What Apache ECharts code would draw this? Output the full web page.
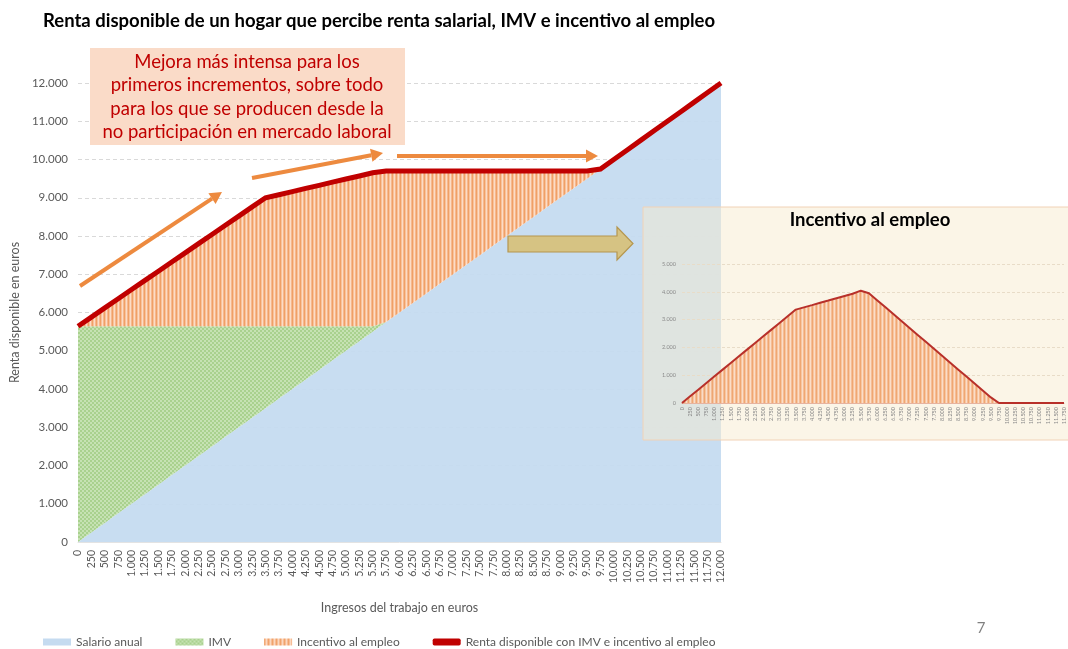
<!DOCTYPE html>
<html>
<head>
<meta charset="utf-8">
<script src="https://cdn.jsdelivr.net/npm/echarts@6/dist/echarts.min.js"></script>
<style>html,body{margin:0;padding:0;background:#fff}#c{width:1068px;height:649px}</style>
</head>
<body>
<div id="c"></div>
<script>
// ---------- DATA ----------
const categories = ['0','250','500','750','1.000','1.250','1.500','1.750','2.000','2.250','2.500','2.750','3.000','3.250','3.500','3.750','4.000','4.250','4.500','4.750','5.000','5.250','5.500','5.750','6.000','6.250','6.500','6.750','7.000','7.250','7.500','7.750','8.000','8.250','8.500','8.750','9.000','9.250','9.500','9.750','10.000','10.250','10.500','10.750','11.000','11.250','11.500','11.750','12.000'];
const salario = [0,250,500,750,1000,1250,1500,1750,2000,2250,2500,2750,3000,3250,3500,3750,4000,4250,4500,4750,5000,5250,5500,5750,6000,6250,6500,6750,7000,7250,7500,7750,8000,8250,8500,8750,9000,9250,9500,9750,10000,10250,10500,10750,11000,11250,11500,11750,12000];
const imv = [5640,5390,5140,4890,4640,4390,4140,3890,3640,3390,3140,2890,2640,2390,2140,1890,1640,1390,1140,890,640,390,140,0,0,0,0,0,0,0,0,0,0,0,0,0,0,0,0,0,0,0,0,0,0,0,0,0,0];
const incentivo = [0,240,480,720,960,1200,1440,1680,1920,2160,2400,2640,2880,3120,3360,3440,3520,3605,3685,3770,3850,3930,4015,3950,3700,3450,3200,2950,2700,2450,2200,1950,1700,1450,1200,950,700,450,200,0,0,0,0,0,0,0,0,0,0];
const renta = [5640,5880,6120,6360,6600,6840,7080,7320,7560,7800,8040,8280,8520,8760,9000,9080,9160,9245,9325,9410,9490,9570,9655,9700,9700,9700,9700,9700,9700,9700,9700,9700,9700,9700,9700,9700,9700,9700,9700,9750,10000,10250,10500,10750,11000,11250,11500,11750,12000];
const insetCategories = categories.slice(0, 48);
const insetIncentivo = [0,240,480,720,960,1200,1440,1680,1920,2160,2400,2640,2880,3120,3360,3440,3520,3605,3685,3770,3850,3930,4040,3950,3700,3450,3200,2950,2700,2450,2200,1950,1700,1450,1200,950,700,450,200,0,0,0,0,0,0,0,0,0];

const titleText = 'Renta disponible de un hogar que percibe renta salarial, IMV e incentivo al empleo';
const noteText = 'Mejora más intensa para los\nprimeros incrementos, sobre todo\npara los que se producen desde la\nno participación en mercado laboral';

// ---------- PATTERNS ----------
function stripePattern(){
  const c = document.createElement('canvas'); c.width = 4; c.height = 8;
  const g = c.getContext('2d');
  const cols = ['#F0A066','#F8C29C','#FCDCC6','#F6B88E'];
  cols.forEach((col,i)=>{g.fillStyle=col; g.fillRect(i,0,1,8);});
  return {image:c, repeat:'repeat'};
}
function checkPattern(){
  const c = document.createElement('canvas'); c.width = 4; c.height = 4;
  const g = c.getContext('2d');
  g.fillStyle = '#A9D18E'; g.fillRect(0,0,4,4);
  g.fillStyle = '#C6E2B3'; g.fillRect(0,0,2,2); g.fillRect(2,2,2,2);
  return {image:c, repeat:'repeat'};
}
const orangePat = stripePattern();
const greenPat = checkPattern();

function fmt(v){ return String(v).replace(/\B(?=(\d{3})+(?!\d))/g,'.'); }

function arrow(x1,y1,x2,y2,color,w){
  const dx=x2-x1, dy=y2-y1, L=Math.sqrt(dx*dx+dy*dy), ux=dx/L, uy=dy/L;
  const hl=12, hw=6.5;
  const bx=x2-ux*hl, by=y2-uy*hl;
  return [
    {type:'line', z:50, shape:{x1:x1,y1:y1,x2:bx,y2:by}, style:{stroke:color, lineWidth:w}},
    {type:'polygon', z:50, shape:{points:[[x2,y2],[bx-uy*hw,by+ux*hw],[bx+uy*hw,by-ux*hw]]}, style:{fill:color}}
  ];
}

const chart = echarts.init(document.getElementById('c'));
const FONT = 'Lato';
const option = {
  animation:false,
  textStyle:{fontFamily:FONT},
  title:{text:titleText, left:38, top:7, textStyle:{fontFamily:FONT, fontSize:18.5, fontWeight:'bold', color:'#000'}},
  legend:{
    left:38, top:631, itemWidth:28, itemHeight:7, itemGap:33,
    textStyle:{fontSize:12, color:'#595959'},
    data:[
      {name:'Salario anual', icon:'rect', itemStyle:{color:'#C5DBF0'}},
      {name:'IMV', icon:'rect', itemStyle:{color:greenPat}},
      {name:'Incentivo al empleo', icon:'rect', itemStyle:{color:orangePat}},
      {name:'Renta disponible con IMV e incentivo al empleo', icon:'roundRect', itemStyle:{color:'#C00000'}}
    ]
  },
  grid:[
    {left:75, right:347, top:83, bottom:107},
    {left:682, right:4, top:264, bottom:246}
  ],
  xAxis:[
    {type:'category', gridIndex:0, data:categories, boundaryGap:false,
     name:'Ingresos del trabajo en euros', nameLocation:'middle', nameGap:59,
     nameTextStyle:{fontSize:12.5, color:'#595959'},
     axisLine:{lineStyle:{color:'#E3E3E3'}}, axisTick:{show:false},
     axisLabel:{interval:0, rotate:90, fontSize:10.5, color:'#595959', margin:8}},
    {type:'category', gridIndex:1, data:insetCategories, boundaryGap:false, z:30,
     axisLine:{lineStyle:{color:'#E6B3A0'}}, axisTick:{show:false},
     axisLabel:{interval:0, rotate:90, fontSize:5.5, color:'#8a8a8a', margin:4}}
  ],
  yAxis:[
    {type:'value', gridIndex:0, min:0, max:12000, interval:1000,
     name:'Renta disponible en euros', nameLocation:'middle', nameGap:57,
     nameTextStyle:{fontSize:12.5, color:'#595959'},
     axisLine:{show:false}, axisTick:{show:false},
     axisLabel:{fontSize:11.5, color:'#595959', margin:10, formatter:fmt},
     splitLine:{lineStyle:{color:'#D9D9D9', type:[4,3]}}},
    {type:'value', gridIndex:1, min:0, max:5000, interval:1000, z:30,
     axisLine:{show:false}, axisTick:{show:false},
     axisLabel:{fontSize:5.5, color:'#8a8a8a', margin:6, formatter:fmt},
     splitLine:{lineStyle:{color:'#E8DCC8', type:[3,2]}}}
  ],
  series:[
    {name:'Salario anual', type:'line', stack:'a', xAxisIndex:0, yAxisIndex:0, data:salario,
     symbol:'none', lineStyle:{width:0}, areaStyle:{color:'#C5DBF0', opacity:0.95}, itemStyle:{color:'#C5DBF0'}},
    {name:'IMV', type:'line', stack:'a', xAxisIndex:0, yAxisIndex:0, data:imv,
     symbol:'none', lineStyle:{width:0}, areaStyle:{color:greenPat, opacity:1}, itemStyle:{color:'#A9D18E'}},
    {name:'Incentivo al empleo', type:'line', stack:'a', xAxisIndex:0, yAxisIndex:0, data:incentivo,
     symbol:'none', lineStyle:{width:0}, areaStyle:{color:orangePat, opacity:1}, itemStyle:{color:'#F4B183'}},
    {name:'Renta disponible con IMV e incentivo al empleo', type:'line', xAxisIndex:0, yAxisIndex:0, data:renta,
     symbol:'none', lineStyle:{width:5, color:'#C00000', join:'miter'}, itemStyle:{color:'#C00000'}, z:4},
    {name:'inset', type:'line', xAxisIndex:1, yAxisIndex:1, data:insetIncentivo, z:40,
     symbol:'none', lineStyle:{width:2, color:'#B8302A'}, areaStyle:{color:orangePat, opacity:0.9}}
  ],
  graphic:[
    {type:'rect', z:10, shape:{x:643, y:207, width:430, height:233},
     style:{fill:'rgba(248,236,208,0.5)', stroke:'#F1D2B6', lineWidth:1}},
    {type:'text', z:45, x:870, y:220, style:{text:'Incentivo al empleo', font:'bold 18.5px Lato', fill:'#000', textAlign:'center', textVerticalAlign:'middle'}},
    {type:'rect', z:45, shape:{x:90, y:48, width:315, height:97}, style:{fill:'#FADBC8'}},
    {type:'text', z:46, x:247, y:97, style:{text:noteText, font:'18.5px Lato', fill:'#C00000', textAlign:'center', textVerticalAlign:'middle', lineHeight:23.5}},
    ...arrow(80,286,222,192,'#ED8A3F',4),
    ...arrow(252,178,383,153,'#ED8A3F',4),
    ...arrow(397,156,598,156,'#ED8A3F',4),
    {type:'polygon', z:50, shape:{points:[[508,236],[617,236],[617,227],[633,243.5],[617,260],[617,252],[508,252]]},
     style:{fill:'#D6C383', stroke:'#B5964F', lineWidth:1.2}},
    {type:'text', z:50, x:981, y:628, style:{text:'7', font:'15px Lato', fill:'#7F7F7F', textAlign:'center', textVerticalAlign:'middle'}}
  ]
};
chart.setOption(option);
</script>
</body>
</html>
